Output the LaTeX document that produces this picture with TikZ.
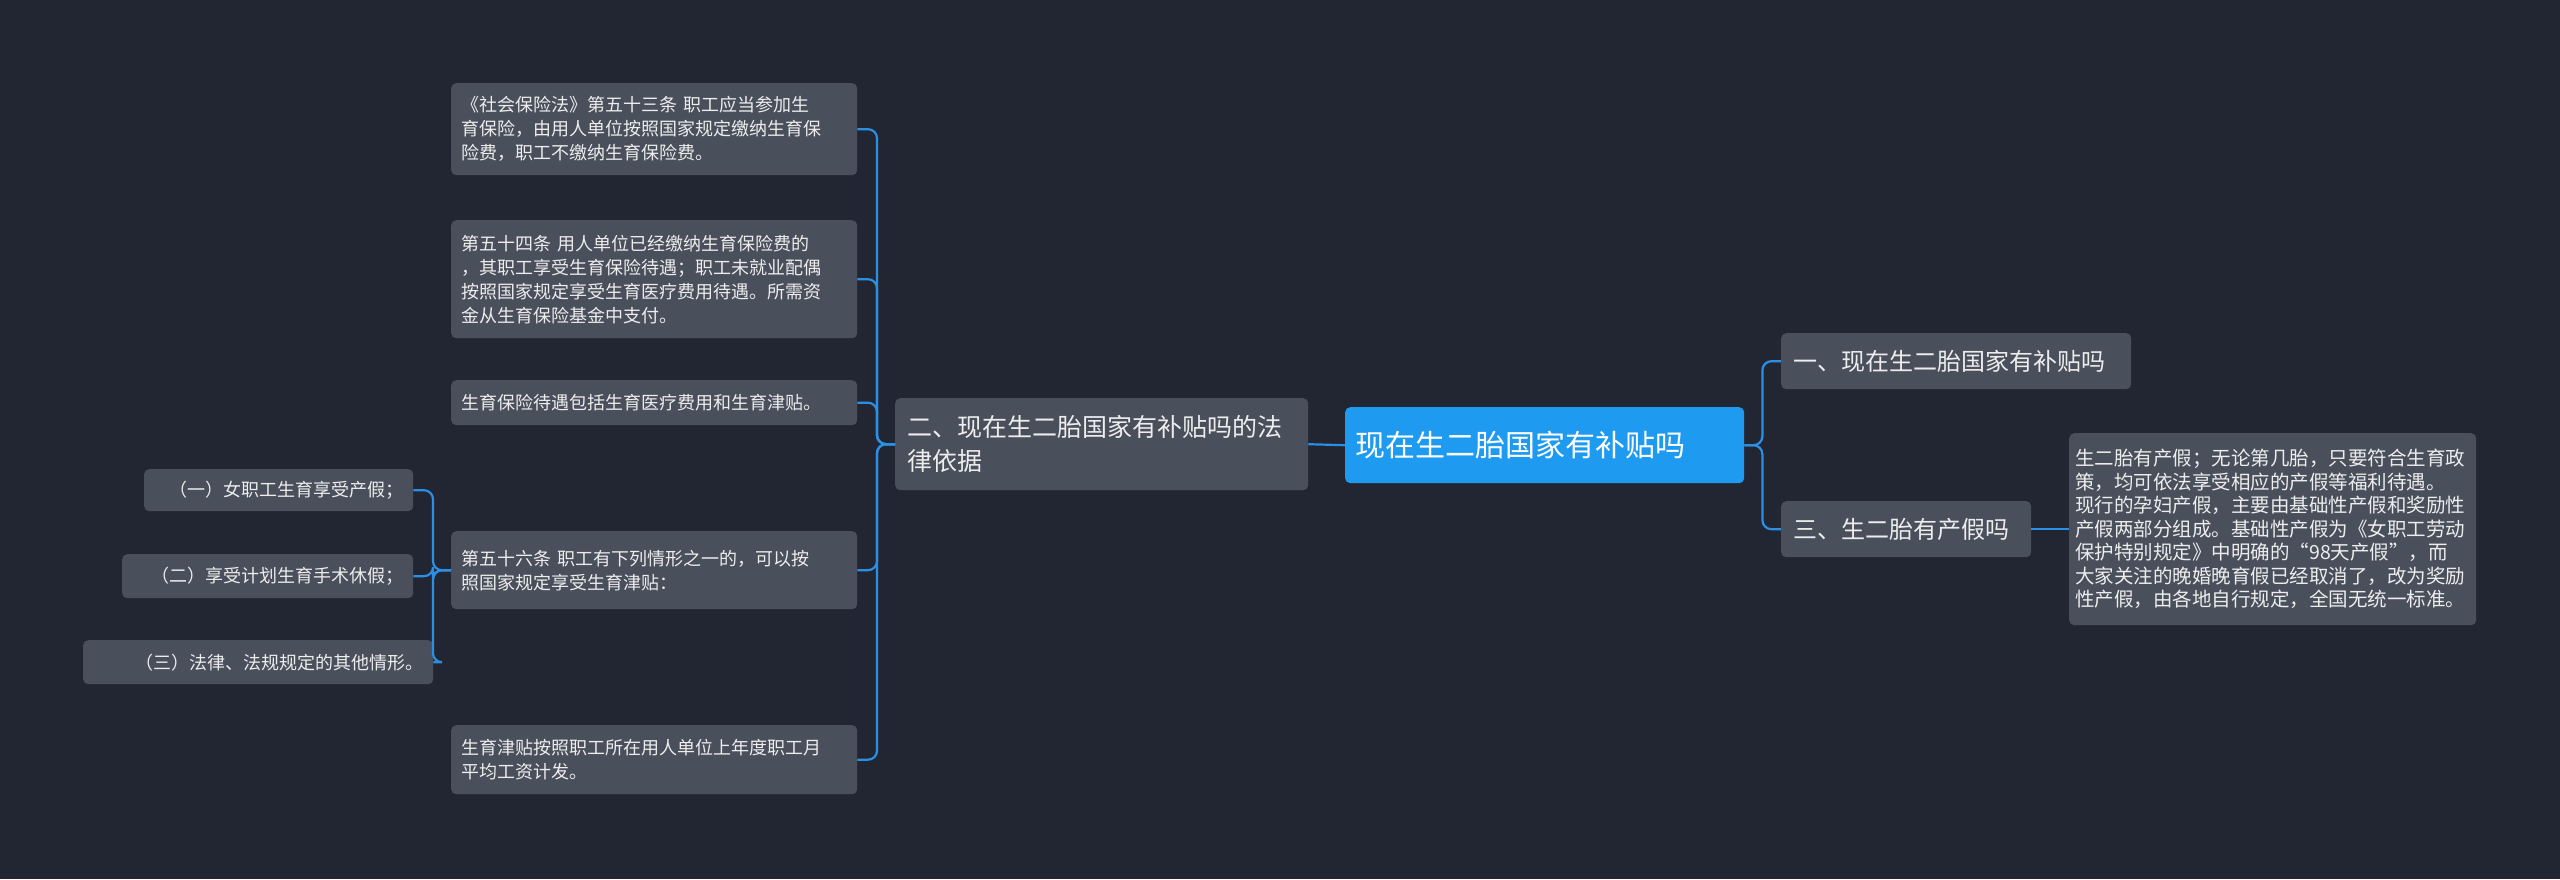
\documentclass[tikz,border=0pt]{standalone}
\usepackage{fontspec}
\setmainfont{Noto Sans CJK SC}
\begin{document}
\begin{tikzpicture}[x=1pt,y=-1pt,
  box/.style={fill=boxc,rounded corners=5pt,text=txt,align=left,anchor=north west,inner sep=0pt,font=\fontsize{18}{24}\selectfont},
  conn/.style={draw=linec,line width=2.2pt,rounded corners=9pt}]
\definecolor{bg}{HTML}{222632}
\definecolor{boxc}{HTML}{4A4F5C}
\definecolor{linec}{HTML}{2B8FE3}
\definecolor{rootc}{HTML}{1E9BF0}
\definecolor{txt}{HTML}{EDEDED}
\fill[bg] (0,0) rectangle (2560,879);
\useasboundingbox (0,0) rectangle (2560,879);
% root
\node[box,fill=rootc,text=white,minimum width=399pt,minimum height=76pt,text width=379pt,inner xsep=10pt,font=\fontsize{30}{38}\selectfont] (root) at (1345,407) {现在生二胎国家有补贴吗};
% right
\node[box,minimum width=350pt,minimum height=56pt,inner xsep=12pt,text width=326pt,font=\fontsize{24}{30}\selectfont] (r1) at (1781,333) {一、现在生二胎国家有补贴吗};
\node[box,minimum width=250pt,minimum height=56pt,inner xsep=12pt,text width=226pt,font=\fontsize{24}{30}\selectfont] (r2) at (1781,501) {三、生二胎有产假吗};
\node[box,minimum width=407pt,minimum height=192pt,inner xsep=6pt,text width=395pt,font=\fontsize{19.5}{23.5}\selectfont] (rl) at (2069,433) {生二胎有产假；无论第几胎，只要符合生育政\\策，均可依法享受相应的产假等福利待遇。\\现行的孕妇产假，主要由基础性产假和奖励性\\产假两部分组成。基础性产假为《女职工劳动\\保护特别规定》中明确的“98天产假”，而\\大家关注的晚婚晚育假已经取消了，改为奖励\\性产假，由各地自行规定，全国无统一标准。};
% left main
\node[box,minimum width=413pt,minimum height=92pt,inner xsep=12pt,text width=389pt,font=\fontsize{25}{34}\selectfont] (lm) at (895,398) {二、现在生二胎国家有补贴吗的法\\律依据};
% leaves
\node[box,minimum width=406pt,minimum height=92pt,inner xsep=10pt,text width=386pt] (l1) at (451,83) {《社会保险法》第五十三条 职工应当参加生\\育保险，由用人单位按照国家规定缴纳生育保\\险费，职工不缴纳生育保险费。};
\node[box,minimum width=406pt,minimum height=118pt,inner xsep=10pt,text width=386pt] (l2) at (451,220) {第五十四条 用人单位已经缴纳生育保险费的\\，其职工享受生育保险待遇；职工未就业配偶\\按照国家规定享受生育医疗费用待遇。所需资\\金从生育保险基金中支付。};
\node[box,minimum width=406pt,minimum height=45pt,inner xsep=10pt,text width=386pt] (l3) at (451,380) {生育保险待遇包括生育医疗费用和生育津贴。};
\node[box,minimum width=406pt,minimum height=78pt,inner xsep=10pt,text width=386pt] (l4) at (451,531) {第五十六条 职工有下列情形之一的，可以按\\照国家规定享受生育津贴：};
\node[box,minimum width=406pt,minimum height=69pt,inner xsep=10pt,text width=386pt] (l5) at (451,725) {生育津贴按照职工所在用人单位上年度职工月\\平均工资计发。};
\node[box,minimum width=269pt,minimum height=42pt,inner xsep=10pt,text width=249pt,align=right] (s1) at (144,469) {（一）女职工生育享受产假；};
\node[box,minimum width=291pt,minimum height=44pt,inner xsep=10pt,text width=271pt,align=right] (s2) at (122,554) {（二）享受计划生育手术休假；};
\node[box,minimum width=350pt,minimum height=44pt,inner xsep=10pt,text width=330pt,align=right] (s3) at (83,640) {（三）法律、法规规定的其他情形。};
% connectors
\draw[conn] (root.east) -- ++(18,0) |- (r1.west);
\draw[conn] (root.east) -- ++(18,0) |- (r2.west);
\draw[conn] (r2.west -| r2.east) -- (rl.west);
\draw[conn] (root.west) -- (lm.east);
\foreach \c in {l1,l2,l3,l4,l5}{\draw[conn] (lm.west) -- ++(-18,0) |- (\c.east);}
\foreach \c in {s1,s2,s3}{\draw[conn] (l4.west) -- ++(-18,0) |- (\c.east);}
\end{tikzpicture}
\end{document}
